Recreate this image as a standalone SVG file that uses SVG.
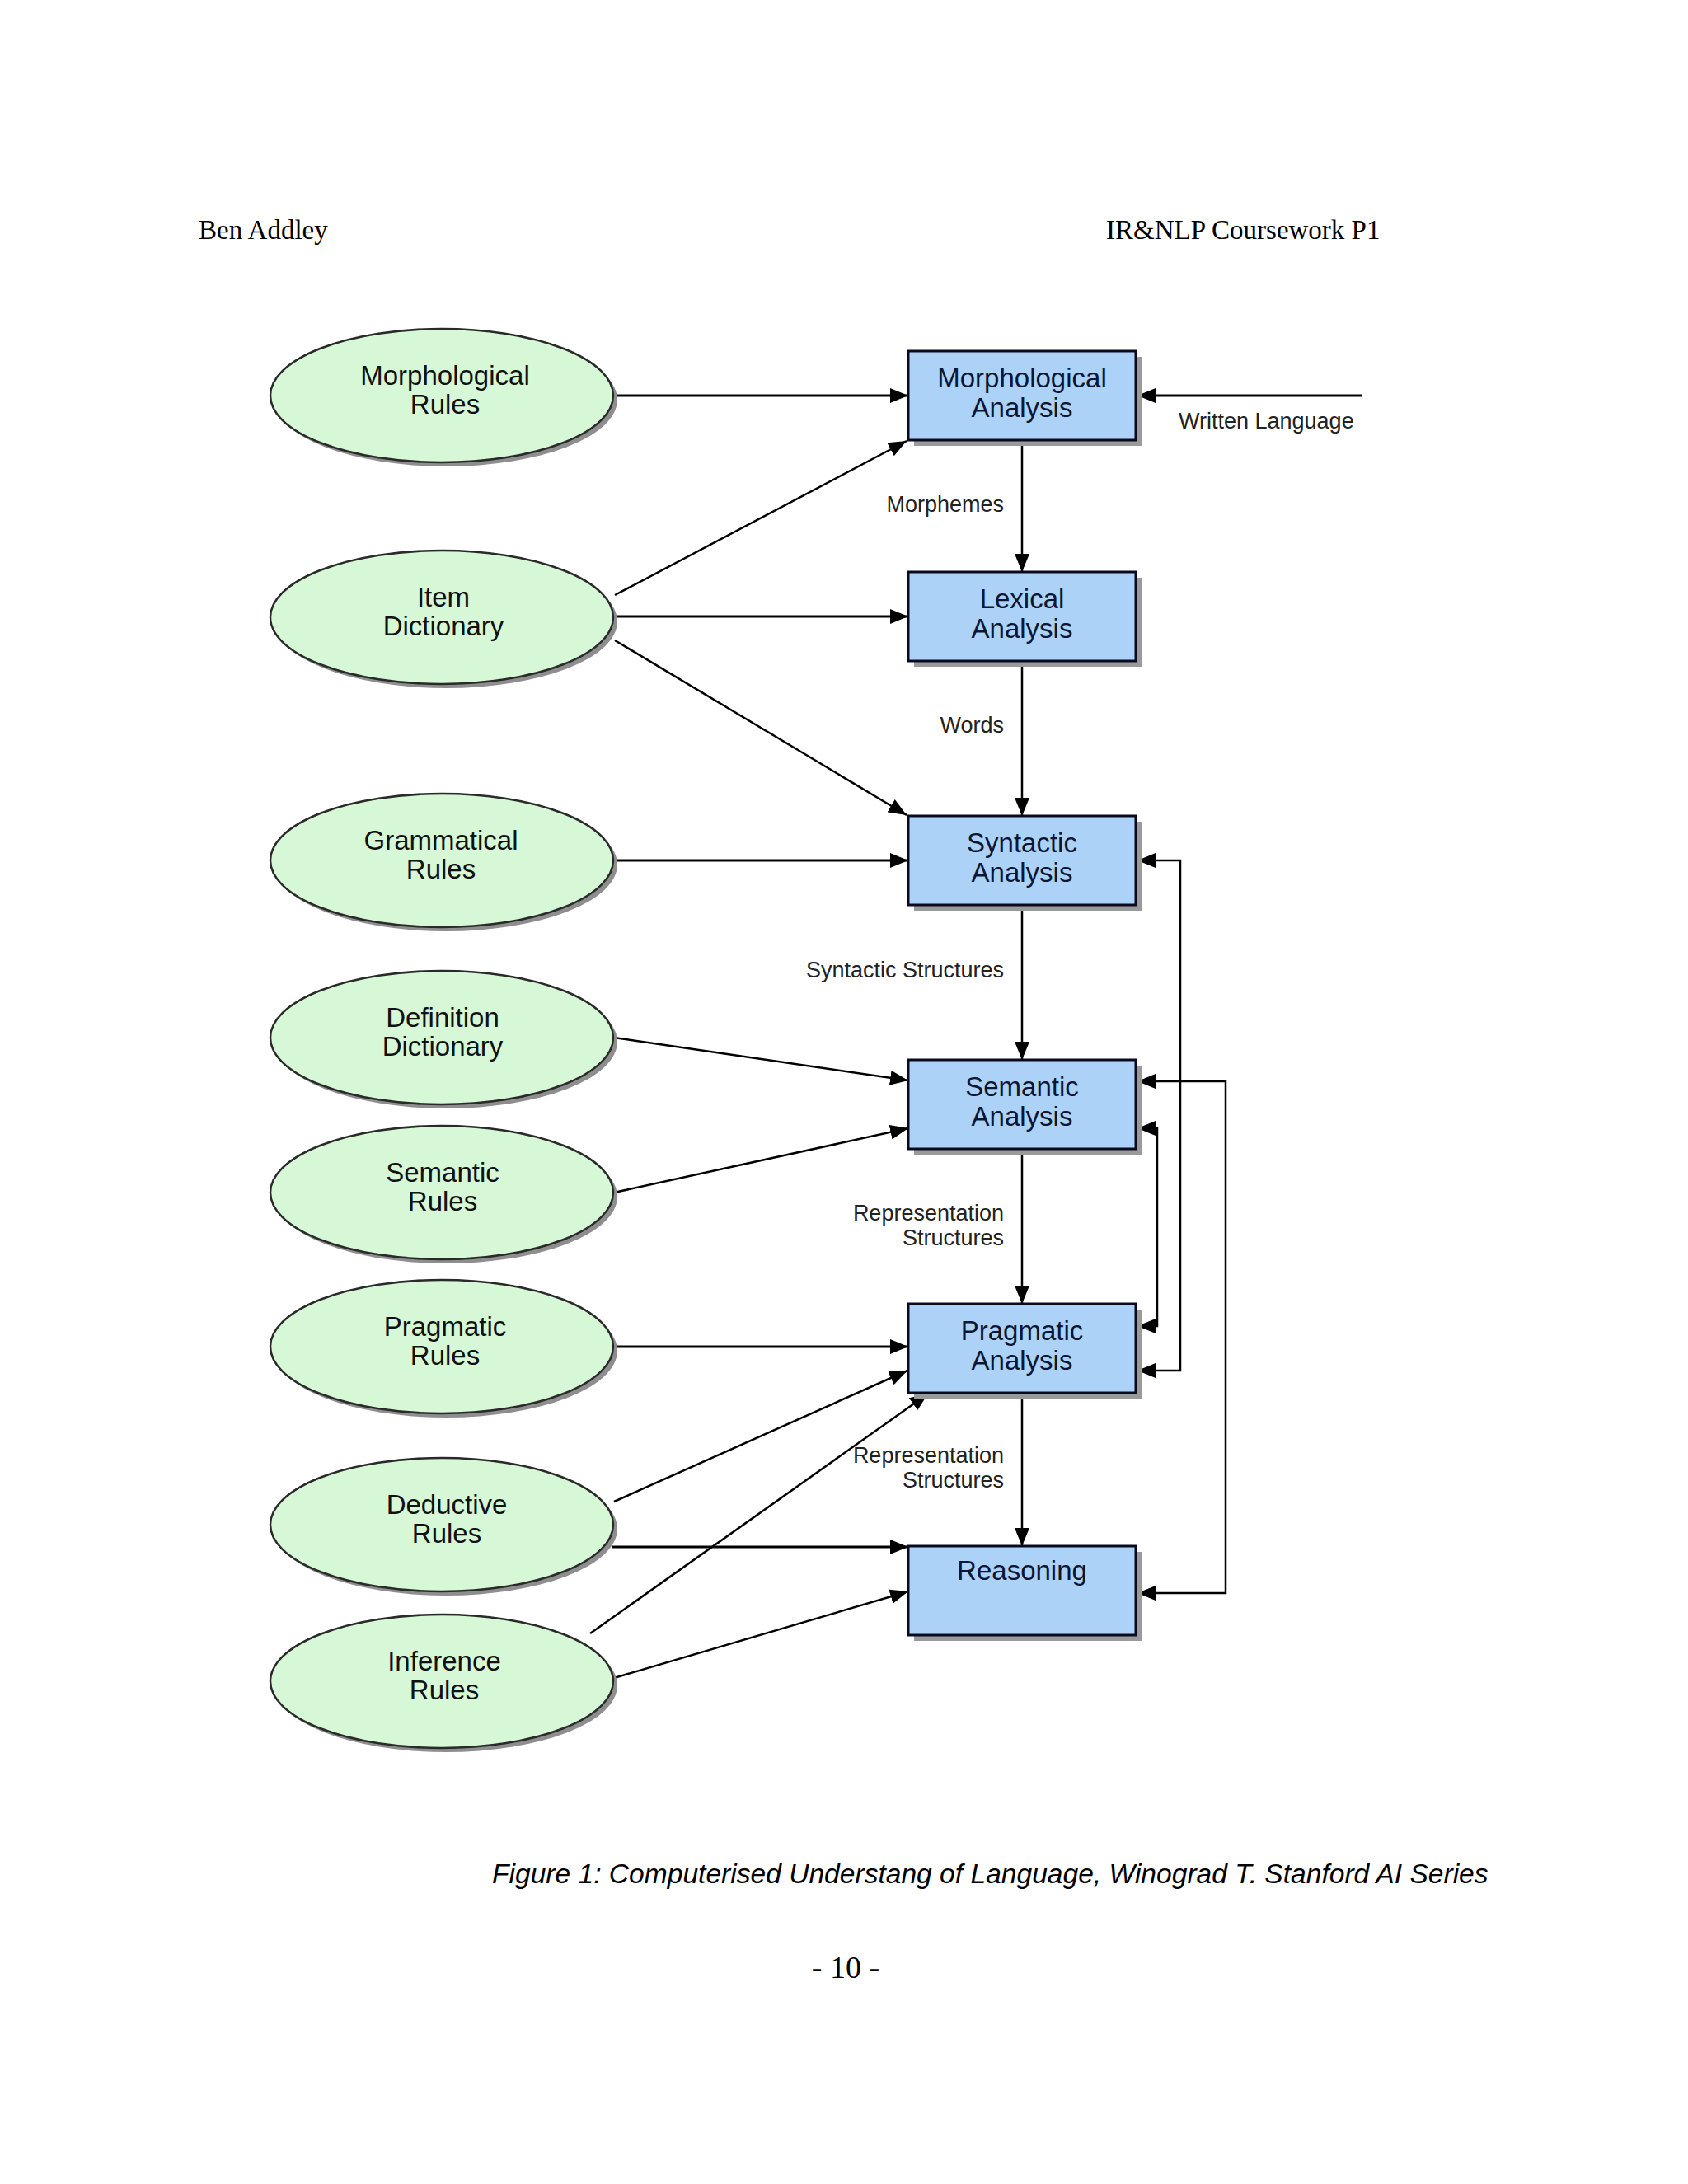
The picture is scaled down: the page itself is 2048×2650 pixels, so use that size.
<svg xmlns="http://www.w3.org/2000/svg" width="2048" height="2650" viewBox="0 0 2048 2650">
<style>
.page{font-family:"Liberation Serif","Times New Roman",serif;font-size:33px;fill:#000}
.ell{fill:#d6f8d6;stroke:#2a2a2a;stroke-width:2.5}
.eshadow{fill:#8e8e8e}
.box{fill:#acd2f8;stroke:#0a0a1e;stroke-width:3}
.bshadow{fill:#9a9a9a}
.nt{font-family:"Liberation Sans",Arial,sans-serif;font-size:33px;text-anchor:middle;fill:#111}
.bt{font-family:"Liberation Sans",Arial,sans-serif;font-size:33px;text-anchor:middle;fill:#0b1634}
.lbl{font-family:"Liberation Sans",Arial,sans-serif;font-size:27px;fill:#222;text-anchor:end}
.c{fill:none;stroke:#000;stroke-width:2.5}
.h{stroke-width:3.2}
.cap{font-family:"Liberation Sans",Arial,sans-serif;font-size:33.6px;font-style:italic;fill:#000}
</style>
<defs>
<marker id="ah" viewBox="0 0 22 18" refX="22" refY="9" markerWidth="22" markerHeight="18" markerUnits="userSpaceOnUse" orient="auto-start-reverse">
<path d="M0,0 L22,9 L0,18 z" fill="#000"/>
</marker>
</defs>
<rect width="2048" height="2650" fill="#fff"/>
<text class="page" x="241" y="290">Ben Addley</text>
<text class="page" x="1342" y="290">IR&amp;NLP Coursework P1</text>

<g id="connectors">
<path class="c h" d="M744,480 H1102" marker-end="url(#ah)"/>
<path class="c h" d="M1653,480 H1380" marker-end="url(#ah)"/>
<path class="c" d="M1240,534 V694" marker-end="url(#ah)"/>
<path class="c" d="M746,722 L1100,535" marker-end="url(#ah)"/>
<path class="c h" d="M744,748 H1102" marker-end="url(#ah)"/>
<path class="c" d="M746,777 L1100,989" marker-end="url(#ah)"/>
<path class="c" d="M1240,803 V990" marker-end="url(#ah)"/>
<path class="c h" d="M744,1044 H1102" marker-end="url(#ah)"/>
<path class="c" d="M1240,1098 V1286" marker-end="url(#ah)"/>
<path class="c" d="M745,1259 L1102,1311" marker-end="url(#ah)"/>
<path class="c" d="M745,1447 L1102,1369" marker-end="url(#ah)"/>
<path class="c" d="M1240,1394 V1582" marker-end="url(#ah)"/>
<path class="c h" d="M744,1634 H1102" marker-end="url(#ah)"/>
<path class="c" d="M745,1822 L1101,1663" marker-end="url(#ah)"/>
<path class="c" d="M716,1982 L1126,1691" marker-end="url(#ah)"/>
<path class="c" d="M1240,1690 V1876" marker-end="url(#ah)"/>
<path class="c h" d="M742,1877 H1102" marker-end="url(#ah)"/>
<path class="c" d="M745,2036 L1102,1931" marker-end="url(#ah)"/>
<path class="c" d="M1380,1044 H1432 V1663 H1380" marker-start="url(#ah)" marker-end="url(#ah)"/>
<path class="c" d="M1380,1312 H1487 V1933 H1380" marker-start="url(#ah)" marker-end="url(#ah)"/>
<path class="c" d="M1380,1369 H1404 V1609 H1380" marker-start="url(#ah)" marker-end="url(#ah)"/>
<text class="lbl" x="1430" y="520" style="text-anchor:start">Written Language</text>
<text class="lbl" x="1218" y="621">Morphemes</text>
<text class="lbl" x="1218" y="889">Words</text>
<text class="lbl" x="1218" y="1186">Syntactic Structures</text>
<text class="lbl" x="1218" y="1481">Representation</text>
<text class="lbl" x="1218" y="1511">Structures</text>
<text class="lbl" x="1218" y="1775">Representation</text>
<text class="lbl" x="1218" y="1805">Structures</text>
</g>

<g id="morphological-rules">
<ellipse class="eshadow" cx="541" cy="485" rx="208" ry="81"/>
<ellipse class="ell" cx="536" cy="480" rx="208" ry="81"/>
<text class="nt" x="540" y="467">Morphological</text>
<text class="nt" x="540" y="502">Rules</text>
</g>
<g id="item-dictionary">
<ellipse class="eshadow" cx="541" cy="754" rx="208" ry="81"/>
<ellipse class="ell" cx="536" cy="749" rx="208" ry="81"/>
<text class="nt" x="538" y="736">Item</text>
<text class="nt" x="538" y="771">Dictionary</text>
</g>
<g id="grammatical-rules">
<ellipse class="eshadow" cx="541" cy="1049" rx="208" ry="81"/>
<ellipse class="ell" cx="536" cy="1044" rx="208" ry="81"/>
<text class="nt" x="535" y="1031">Grammatical</text>
<text class="nt" x="535" y="1066">Rules</text>
</g>
<g id="definition-dictionary">
<ellipse class="eshadow" cx="541" cy="1264" rx="208" ry="81"/>
<ellipse class="ell" cx="536" cy="1259" rx="208" ry="81"/>
<text class="nt" x="537" y="1246">Definition</text>
<text class="nt" x="537" y="1281">Dictionary</text>
</g>
<g id="semantic-rules">
<ellipse class="eshadow" cx="541" cy="1452" rx="208" ry="81"/>
<ellipse class="ell" cx="536" cy="1447" rx="208" ry="81"/>
<text class="nt" x="537" y="1434">Semantic</text>
<text class="nt" x="537" y="1469">Rules</text>
</g>
<g id="pragmatic-rules">
<ellipse class="eshadow" cx="541" cy="1639" rx="208" ry="81"/>
<ellipse class="ell" cx="536" cy="1634" rx="208" ry="81"/>
<text class="nt" x="540" y="1621">Pragmatic</text>
<text class="nt" x="540" y="1656">Rules</text>
</g>
<g id="deductive-rules">
<ellipse class="eshadow" cx="541" cy="1855" rx="208" ry="81"/>
<ellipse class="ell" cx="536" cy="1850" rx="208" ry="81"/>
<text class="nt" x="542" y="1837">Deductive</text>
<text class="nt" x="542" y="1872">Rules</text>
</g>
<g id="inference-rules">
<ellipse class="eshadow" cx="541" cy="2045" rx="208" ry="81"/>
<ellipse class="ell" cx="536" cy="2040" rx="208" ry="81"/>
<text class="nt" x="539" y="2027">Inference</text>
<text class="nt" x="539" y="2062">Rules</text>
</g>

<g id="morphological-analysis">
<rect class="bshadow" x="1109" y="433" width="276" height="108"/>
<rect class="box" x="1102" y="426" width="276" height="108"/>
<text class="bt" x="1240" y="470">Morphological</text>
<text class="bt" x="1240" y="506">Analysis</text>
</g>
<g id="lexical-analysis">
<rect class="bshadow" x="1109" y="701" width="276" height="108"/>
<rect class="box" x="1102" y="694" width="276" height="108"/>
<text class="bt" x="1240" y="738">Lexical</text>
<text class="bt" x="1240" y="774">Analysis</text>
</g>
<g id="syntactic-analysis">
<rect class="bshadow" x="1109" y="997" width="276" height="108"/>
<rect class="box" x="1102" y="990" width="276" height="108"/>
<text class="bt" x="1240" y="1034">Syntactic</text>
<text class="bt" x="1240" y="1070">Analysis</text>
</g>
<g id="semantic-analysis">
<rect class="bshadow" x="1109" y="1293" width="276" height="108"/>
<rect class="box" x="1102" y="1286" width="276" height="108"/>
<text class="bt" x="1240" y="1330">Semantic</text>
<text class="bt" x="1240" y="1366">Analysis</text>
</g>
<g id="pragmatic-analysis">
<rect class="bshadow" x="1109" y="1589" width="276" height="108"/>
<rect class="box" x="1102" y="1582" width="276" height="108"/>
<text class="bt" x="1240" y="1626">Pragmatic</text>
<text class="bt" x="1240" y="1662">Analysis</text>
</g>
<g id="reasoning">
<rect class="bshadow" x="1109" y="1883" width="276" height="108"/>
<rect class="box" x="1102" y="1876" width="276" height="108"/>
<text class="bt" x="1240" y="1917">Reasoning</text>
</g>

<text class="cap" x="597" y="2285">Figure 1: Computerised Understang of Language, Winograd T. Stanford AI Series</text>
<text class="page" x="1026" y="2400" style="text-anchor:middle;font-size:38px">- 10 -</text>
</svg>
